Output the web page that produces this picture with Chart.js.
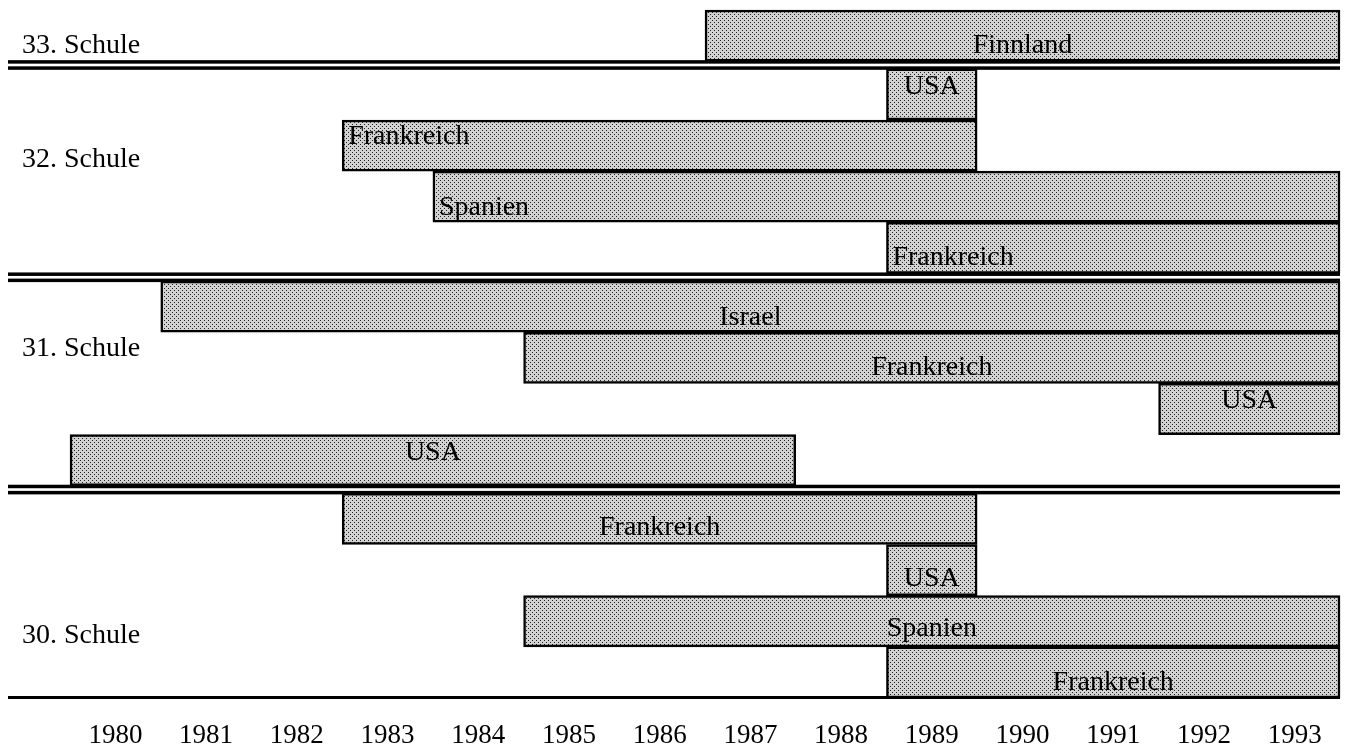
<!DOCTYPE html>
<html>
<head>
<meta charset="utf-8">
<script src="https://cdn.jsdelivr.net/npm/chart.js@4.4.0/dist/chart.umd.min.js"></script>
<style>
  html, body { margin: 0; padding: 0; background: #fff; }
  #wrap { width: 1345px; height: 749px; }
</style>
</head>
<body>
<div id="wrap"><canvas id="schulChart" width="1345" height="749"></canvas></div>
<script>
// data
const yearLabels = ['1980', '1981', '1982', '1983', '1984', '1985', '1986', '1987', '1988', '1989', '1990', '1991', '1992', '1993'];
const schools = ['33. Schule', '32. Schule', '31. Schule', '30. Schule'];
const countries = ['Finnland', 'USA', 'Frankreich', 'Spanien', 'Frankreich', 'Israel', 'Frankreich', 'USA', 'USA', 'Frankreich', 'USA', 'Spanien', 'Frankreich'];
const startYears = [1987, 1989, 1983, 1984, 1989, 1981, 1985, 1992, 1980, 1983, 1989, 1985, 1989];
const endYears = [1994, 1990, 1990, 1994, 1994, 1994, 1994, 1994, 1988, 1990, 1990, 1994, 1994];
const rowSchool = [0, 1, 1, 1, 1, 2, 2, 2, 2, 3, 3, 3, 3];

// label placement (style only)
const labelAlign = ['center', 'center', 'left', 'left', 'left', 'center', 'center', 'center', 'center', 'center', 'center', 'center', 'center'];
const labelRise = [0.7, 0.34, 0.33, 0.72, 0.7, 0.72, 0.7, 0.33, 0.35, 0.66, 0.66, 0.64, 0.7];
const schoolLabelRow = [0, 2, 6, 11];
const schoolLabelRise = [0.69, 0.77, 0.33, 0.78];

const GROUP_GAP = 0.15;
const SERIF = '"Liberation Serif", "Times New Roman", serif';

function rowCenter(i) {
    return i + 0.5 + rowSchool[i] * GROUP_GAP;
}

function makeDots(ctx) {
    const c = document.createElement('canvas');
    c.width = 4;
    c.height = 4;
    const g = c.getContext('2d');
    g.fillStyle = '#d2d2d2';
    g.fillRect(0, 0, 4, 4);
    g.fillStyle = '#222';
    g.fillRect(0, 0, 1, 1);
    g.fillRect(2, 2, 1, 1);
    return ctx.createPattern(c, 'repeat');
}

const schoolLayout = {
    id: 'schoolLayout',
    afterDatasetsDraw(chart) {
        const { ctx, chartArea, scales: { y } } = chart;
        const meta = chart.getDatasetMeta(0);
        const w = chartArea.right - chartArea.left;
        ctx.save();
        ctx.fillStyle = '#000';

        // country names inside the bars
        ctx.font = '28px ' + SERIF;
        ctx.textBaseline = 'middle';
        meta.data.forEach((bar, i) => {
            const left = Math.min(bar.x, bar.base);
            const right = Math.max(bar.x, bar.base);
            const ty = bar.y - bar.height / 2 + bar.height * labelRise[i];
            if (labelAlign[i] === 'left') {
                ctx.textAlign = 'left';
                ctx.fillText(countries[i], left + 6, ty);
            } else {
                ctx.textAlign = 'center';
                ctx.fillText(countries[i], (left + right) / 2, ty);
            }
        });

        // double rules between schools
        for (let i = 1; i < countries.length; i++) {
            if (rowSchool[i] !== rowSchool[i - 1]) {
                const b = y.getPixelForValue(rowCenter(i - 1) + 0.5);
                const t = y.getPixelForValue(rowCenter(i) - 0.5);
                ctx.fillRect(chartArea.left, b - 1, w, 3.5);
                ctx.fillRect(chartArea.left, t - 2.5, w, 3.5);
            }
        }
        ctx.fillRect(chartArea.left, chartArea.bottom - 2, w, 3);

        // school names
        ctx.textAlign = 'left';
        schools.forEach((s, k) => {
            const r = schoolLabelRow[k];
            const top = y.getPixelForValue(rowCenter(r) - 0.5);
            const bot = y.getPixelForValue(rowCenter(r) + 0.5);
            ctx.fillText(s, 22, top + (bot - top) * schoolLabelRise[k]);
        });
        ctx.restore();
    }
};

const canvas = document.getElementById('schulChart');
const ctx = canvas.getContext('2d');

new Chart(ctx, {
    type: 'bar',
    data: {
        datasets: [{
            data: countries.map((c, i) => ({ x: [startYears[i], endYears[i]], y: rowCenter(i) })),
            backgroundColor: makeDots(ctx),
            borderColor: '#000',
            borderWidth: 2.5,
            borderSkipped: false,
            barPercentage: 1,
            categoryPercentage: 1,
            clip: false
        }]
    },
    options: {
        indexAxis: 'y',
        responsive: false,
        animation: false,
        layout: { padding: { left: 8, right: 5, top: 10, bottom: 0 } },
        plugins: {
            legend: { display: false },
            tooltip: { enabled: false }
        },
        scales: {
            x: {
                type: 'linear',
                min: 1979.316,
                max: 1994,
                grid: { display: false, drawTicks: false },
                border: { display: false },
                afterBuildTicks: scale => {
                    scale.ticks = yearLabels.map(l => ({ value: Number(l) + 0.5 }));
                },
                afterFit: scale => {
                    scale.height = 51;
                },
                ticks: {
                    padding: 22,
                    color: '#000',
                    autoSkip: false,
                    maxRotation: 0,
                    font: { family: SERIF, size: 27 },
                    callback: (value, index) => yearLabels[index]
                }
            },
            y: {
                type: 'linear',
                reverse: true,
                offset: false,
                min: 0,
                max: 13 + 3 * GROUP_GAP,
                display: false,
                afterBuildTicks: scale => {
                    scale.ticks = countries.map((c, i) => ({ value: rowCenter(i) }));
                }
            }
        }
    },
    plugins: [schoolLayout]
});
</script>
</body>
</html>
